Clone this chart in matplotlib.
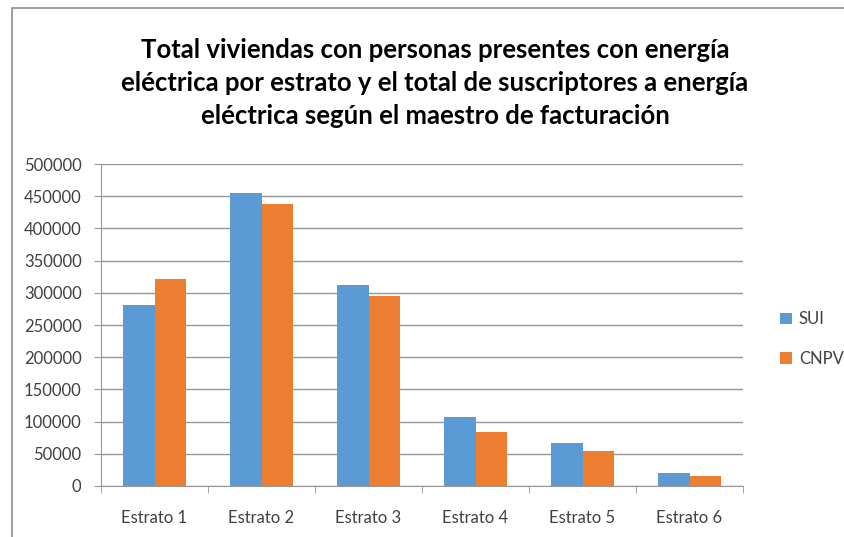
import matplotlib.pyplot as plt
import numpy as np
from matplotlib.patches import Rectangle

categories = ['Estrato 1', 'Estrato 2', 'Estrato 3', 'Estrato 4', 'Estrato 5', 'Estrato 6']
sui = [280600, 454500, 311600, 106700, 66300, 20800]
cnpv = [321000, 437400, 295000, 83900, 54300, 15500]
series_names = ['SUI', 'CNPV']
title = ('Total viviendas con personas presentes con energía\n'
         'eléctrica por estrato y el total de suscriptores a energía\n'
         'eléctrica según el maestro de facturación')

blue = '#5b9bd5'
orange = '#ed7d31'
grid_col = '#969696'
text_col = '#404040'

plt.rcParams['font.family'] = ['Lato', 'DejaVu Sans']

W, H = 844, 537
fig = plt.figure(figsize=(W / 100, H / 100), dpi=100)

# chart frame
fig.patches.append(Rectangle((12 / W, -0.1), 1.1, (H - 8) / H + 0.1, transform=fig.transFigure,
                             fill=False, edgecolor='#8c8c8c', linewidth=1.2))

ax = fig.add_axes([101 / W, (H - 486) / H, (743 - 101) / W, (486 - 164) / H])

x = np.arange(len(categories))
bw = 0.29
ax.bar(x - bw / 2, sui, bw, color=blue, label=series_names[0], zorder=3)
ax.bar(x + bw / 2, cnpv, bw, color=orange, label=series_names[1], zorder=3)

ax.set_xlim(-0.5, len(categories) - 0.5)
ax.set_ylim(0, 500000)
ax.set_yticks(np.arange(0, 500001, 50000))
ax.set_yticklabels([str(v) for v in range(0, 500001, 50000)])
ax.yaxis.grid(True, color=grid_col, linewidth=1.0, zorder=0)

ax.set_xticks(x)
ax.set_xticklabels(categories)
ax.set_xticks(np.arange(-0.5, len(categories)), minor=True)
ax.tick_params(axis='x', which='major', length=0, pad=17, labelsize=12, labelcolor=text_col)
ax.tick_params(axis='x', which='minor', length=5, color=grid_col, direction='out')
ax.tick_params(axis='y', length=5, color=grid_col, pad=9, labelsize=12, labelcolor=text_col)

for s in ['top', 'right']:
    ax.spines[s].set_visible(False)
for s in ['left', 'bottom']:
    ax.spines[s].set_color(grid_col)

fig.text(435 / W, 1 - 83 / H, title, ha='center', va='center', fontsize=18.5,
         fontweight='bold', color='black', linespacing=1.45)

leg = ax.legend(loc='center left', bbox_to_anchor=(1.035, 0.457), frameon=False,
                fontsize=12, handlelength=0.7, handleheight=0.7, labelspacing=1.4,
                handletextpad=0.4)
for t in leg.get_texts():
    t.set_color(text_col)

fig.savefig('out.png', dpi=100)
